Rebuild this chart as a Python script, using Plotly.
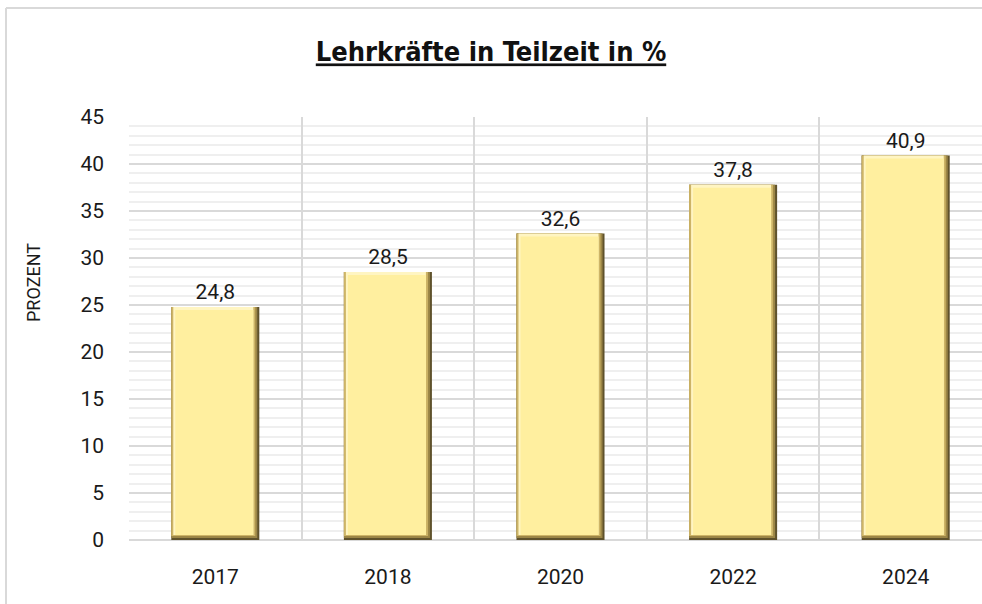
import plotly.graph_objects as go

# Data
years = ["2017", "2018", "2020", "2022", "2024"]
teilzeit = [24.8, 28.5, 32.6, 37.8, 40.9]
y_ticks = [0, 5, 10, 15, 20, 25, 30, 35, 40, 45]

# Canvas / plot geometry (pixels)
W, H = 982, 604
M_L, M_R, M_T, M_B = 129, 0, 117, 64
X_MAX = 4.442          # last category runs off the right edge
Y_MAX = 45

plot_w = W - M_L - M_R
plot_h = H - M_T - M_B
ux = (X_MAX + 0.5) / plot_w     # x units per pixel
uy = Y_MAX / plot_h             # y units per pixel

BAR_W = 0.51

fig = go.Figure()


def bevel_layer(px_left, px_right, px_bottom, px_top, color, **kw):
    """One layer of the bevelled bar, inset by the given pixel amounts."""
    base = px_bottom * uy
    return go.Bar(
        x=years,
        y=[v - base - px_top * uy for v in teilzeit],
        base=base,
        width=BAR_W - (px_left + px_right) * ux,
        offset=-BAR_W / 2 + px_left * ux,
        marker=dict(color=color, line=dict(width=0)),
        showlegend=False,
        hoverinfo="skip",
        **kw,
    )


# outer shadow edge, carries the value labels
fig.add_trace(go.Bar(
    x=years, y=teilzeit, width=BAR_W, offset=-BAR_W / 2,
    marker=dict(color="#5f522c", line=dict(width=0)),
    texttemplate="%{y:.1f}", textposition="outside",
    textfont=dict(size=21, color="#1a1a1a", family="Roboto"),
    cliponaxis=False, showlegend=False,
))
fig.add_trace(bevel_layer(0, 2, 2, 0, "#9c8646"))
fig.add_trace(bevel_layer(0, 4, 4, 0, "#cdb466"))
fig.add_trace(bevel_layer(2, 6, 5, 0, "#fff5c2"))
fig.add_trace(bevel_layer(4, 6, 5, 3, "#ffef9f"))

# chart-area frame: only its top and left edges fall inside the canvas
frame_x = (6 - M_L) / plot_w
frame_y = (H - M_B - 8) / plot_h
frame_line = dict(color="#d9d9d9", width=2)

fig.update_layout(
    width=W, height=H,
    barmode="overlay",
    separators=",.",
    paper_bgcolor="white",
    plot_bgcolor="white",
    margin=dict(l=M_L, r=M_R, t=M_T, b=M_B, pad=0),
    font=dict(family="Roboto", color="#1a1a1a"),
    title=dict(
        text="<b><u>Lehrkräfte in Teilzeit in %</u></b>",
        font=dict(family="DejaVu Sans Condensed", size=27, color="#111111"),
        x=0.5, xanchor="center", xref="container",
        y=1 - 52 / H, yanchor="middle", yref="container",
    ),
    xaxis=dict(
        type="category",
        range=[-0.5, X_MAX],
        tickson="boundaries",
        showgrid=True, gridcolor="#d9d9d9", gridwidth=2,
        ticks="", showline=False, zeroline=False,
        tickfont=dict(size=21),
        ticklabelstandoff=22,
    ),
    yaxis=dict(
        range=[0, Y_MAX],
        tickvals=y_ticks,
        showgrid=True, gridcolor="#d9d9d9", gridwidth=2,
        minor=dict(dtick=1, showgrid=True, gridcolor="#efefef", gridwidth=2),
        zeroline=True, zerolinecolor="#d9d9d9", zerolinewidth=2,
        ticks="", showline=False,
        tickfont=dict(size=21),
        ticklabelstandoff=24,
    ),
    annotations=[dict(
        text="PROZENT", textangle=-90,
        xref="paper", yref="paper",
        x=(33 - M_L) / plot_w, y=(H - M_B - 283) / plot_h,
        xanchor="center", yanchor="middle", showarrow=False,
        font=dict(size=18, color="#1a1a1a"),
    )],
    shapes=[
        dict(type="line", xref="paper", yref="paper", layer="below",
             x0=frame_x, x1=1.2, y0=frame_y, y1=frame_y, line=frame_line),
        dict(type="line", xref="paper", yref="paper", layer="below",
             x0=frame_x, x1=frame_x, y0=-0.3, y1=frame_y, line=frame_line),
    ],
)

fig.write_html("out.html")
